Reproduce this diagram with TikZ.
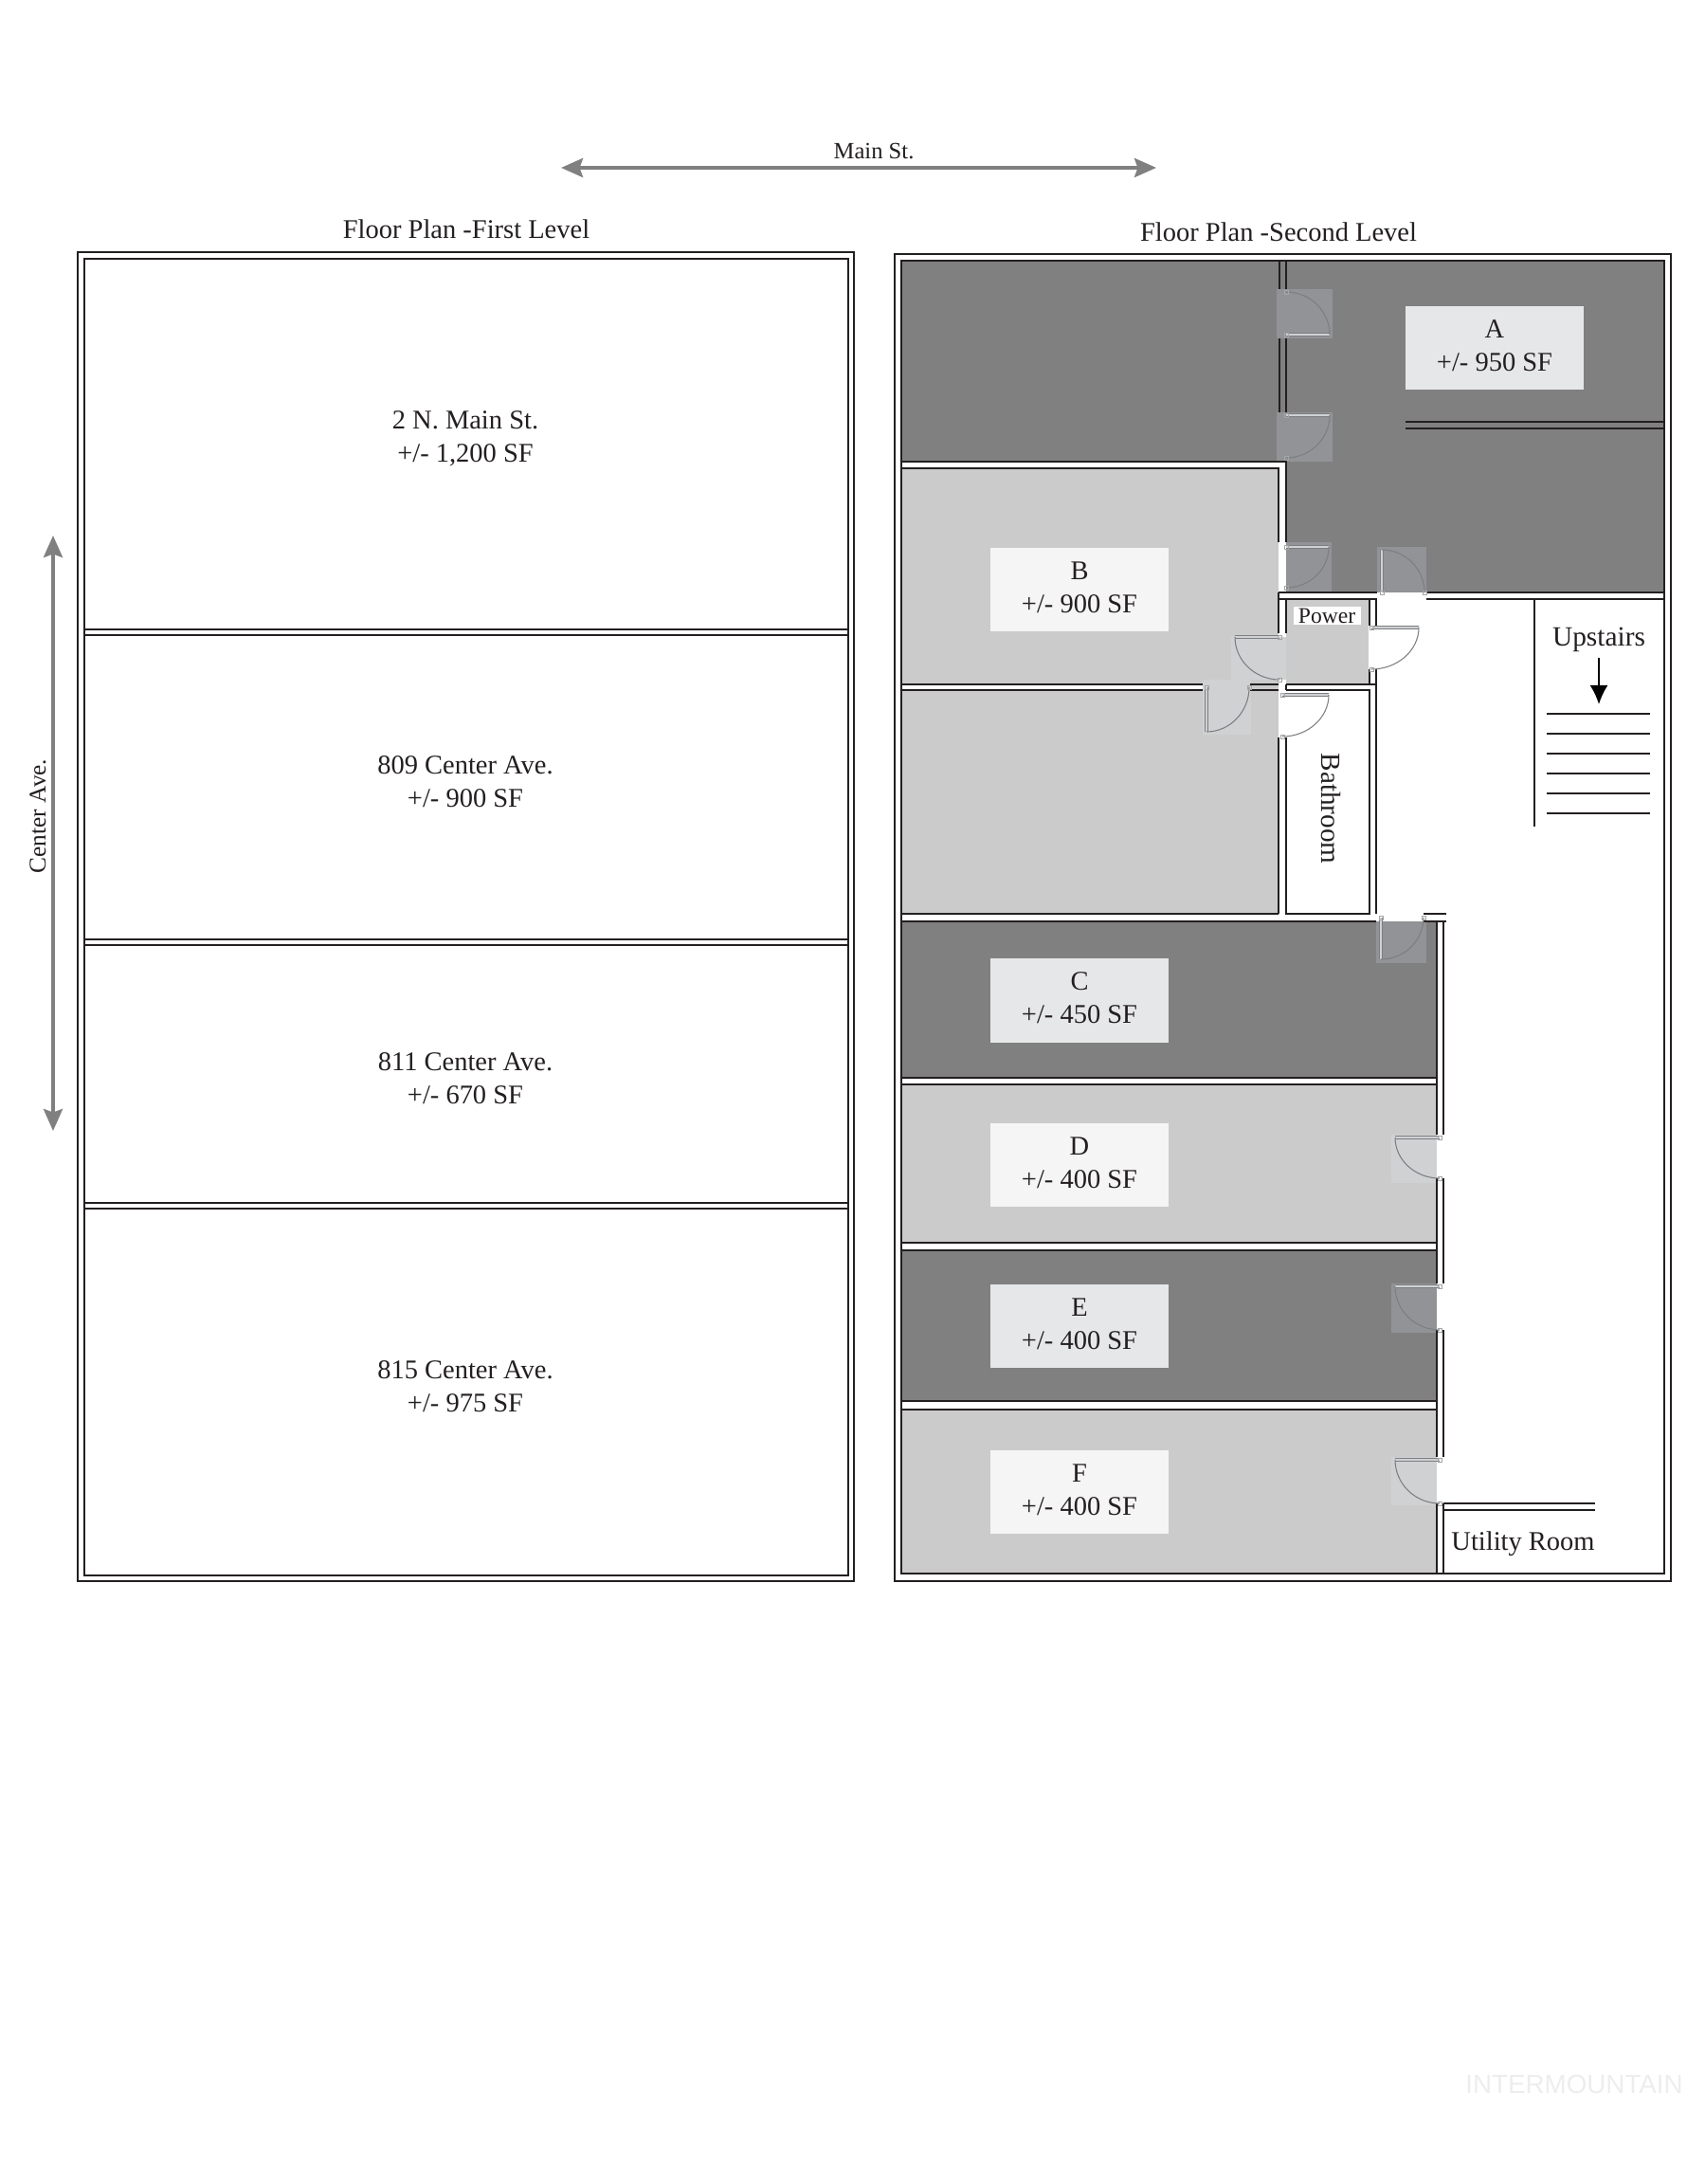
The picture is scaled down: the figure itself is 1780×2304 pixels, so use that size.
\documentclass[tikz,border=0pt]{standalone}
\usepackage{fontspec}
\setmainfont{Liberation Serif}
\newfontfamily\markfont{Liberation Sans}
\usetikzlibrary{calc,arrows.meta}
\definecolor{plan@dark}{RGB}{128,128,128}
\definecolor{plan@light}{RGB}{203,203,203}
\definecolor{plan@patchdark}{RGB}{146,147,150}
\definecolor{plan@patchlight}{RGB}{208,209,211}
\definecolor{plan@tagdark}{RGB}{230,231,232}
\definecolor{plan@taglight}{RGB}{245,245,245}
\definecolor{plan@ink}{RGB}{35,31,32}
\definecolor{plan@door}{RGB}{125,126,129}
\tikzset{
  wall/.style={draw=plan@ink, line width=0.6pt},
  tread/.style={draw=plan@ink, line width=0.75pt},
  street/.style={draw=plan@dark, line width=1.1pt, {Stealth[length=2.3mm,width=2mm,inset=0.35mm]}-{Stealth[length=2.3mm,width=2mm,inset=0.35mm]}},
  door@leaf/.style={draw=plan@door, line width=0.2pt, double=plan@patchlight, double distance=0.5pt},
  door@swing/.style={draw=plan@door, line width=0.3pt},
  door@jamb/.style={draw=plan@door!70!white, line width=0.2pt},
  label/.style={align=center, text=plan@ink, font=\fontsize{8.1}{10}\selectfont, inner sep=0pt},
}
\newcommand{\planDoor}[3]{%
  \draw[door@leaf] (#1) -- (#2);
  \draw[door@swing] (#2) .. controls ($(#2)+0.55*(#3)-0.55*(#1)$) and ($(#3)+0.55*(#2)-0.55*(#1)$) .. (#3);
  \draw[door@jamb] ($(#1)+(-2,-2)$) rectangle ++(4,4);
  \draw[door@jamb] ($(#3)+(-2,-2)$) rectangle ++(4,4);
}

\begin{document}
\begin{tikzpicture}[x=0.01cm,y=-0.01cm]
\useasboundingbox (0,0) rectangle (1780,2304);

% street arrows
\coordinate (mainwest) at (592,177);
\coordinate (maineast) at (1220,177);
\coordinate (centernorth) at (56,565);
\coordinate (centersouth) at (56,1193);
\draw[street] (mainwest) -- (maineast);
\draw[street] (centernorth) -- (centersouth);
\node[label,font=\fontsize{7}{9}\selectfont] (mainst) at (922,160) {Main St.};
\node[label,font=\fontsize{7.2}{9}\selectfont,rotate=90] (centerave) at (40,861) {Center Ave.};

% First level
\node[label] (firsttitle) at (492,242) {Floor Plan -First Level};
\draw[wall] (82,266) rectangle (901,1668);
\draw[wall] (89,273) rectangle (895,1662);
\draw[wall] (89,664) -- (895,664);
\draw[wall] (89,670) -- (895,670);
\draw[wall] (89,991) -- (895,991);
\draw[wall] (89,997) -- (895,997);
\draw[wall] (89,1269) -- (895,1269);
\draw[wall] (89,1275) -- (895,1275);
\node[label] (mainshop) at (491,463) {2 N. Main St.\\+/- 1,200 SF};
\node[label] (shop809) at (491,825) {809 Center Ave.\\+/- 900 SF};
\node[label] (shop811) at (491,1138) {811 Center Ave.\\+/- 670 SF};
\node[label] (shop815) at (491,1463) {815 Center Ave.\\+/- 975 SF};

% Second level
\node[label] (secondtitle) at (1349,245) {Floor Plan -Second Level};

% suites
\fill[plan@dark] (951,275) rectangle (1357,487);
\fill[plan@dark] (1357,275) rectangle (1756,625);
\fill[plan@light] (951,494) rectangle (1349,722);
\fill[plan@light] (951,728) rectangle (1349,964);
\fill[plan@light] (1319,722) rectangle (1349,728);
\fill[plan@light] (1357,632) rectangle (1444,722);
\fill[plan@dark] (951,972) rectangle (1516,1137);
\fill[plan@light] (951,1144) rectangle (1516,1311);
\fill[plan@dark] (951,1319) rectangle (1516,1478);
\fill[plan@light] (951,1487) rectangle (1516,1660);

% door patches
\fill[plan@patchdark] (1347,305) rectangle (1406,357);
\fill[plan@patchdark] (1347,435) rectangle (1406,487);
\fill[white] (1349,572) rectangle (1357,625);
\fill[plan@patchdark] (1357,572) rectangle (1405,625);
\fill[plan@patchdark] (1453,577) rectangle (1505,625);
\fill[plan@patchlight] (1299,672) rectangle (1357,717);
\fill[plan@patchlight] (1269,717) rectangle (1320,775);
\fill[plan@patchdark] (1452,972) rectangle (1505,1016);
\fill[plan@patchlight] (1468,1197) rectangle (1516,1248);
\fill[plan@patchdark] (1468,1354) rectangle (1516,1406);
\fill[plan@patchlight] (1468,1537) rectangle (1516,1588);

% outer walls
\draw[wall] (944,268) rectangle (1763,1668);
\draw[wall] (951,275) rectangle (1756,1660);

% walls round suite A
\draw[wall] (1350,275) -- (1350,305);
\draw[wall] (1357,275) -- (1357,305);
\draw[wall] (1350,357) -- (1350,435);
\draw[wall] (1357,357) -- (1357,435);
\draw[wall] (951,487) -- (1357,487) -- (1357,572);
\draw[wall] (951,494) -- (1349,494) -- (1349,572);
\draw[wall] (1483,445) -- (1756,445);
\draw[wall] (1483,452) -- (1756,452);
\draw[wall] (1349,625) -- (1453,625);
\draw[wall] (1505,625) -- (1756,625);
\draw[wall] (1349,632) -- (1453,632);
\draw[wall] (1505,632) -- (1756,632);

% power room and bathroom
\draw[wall] (1349,625) -- (1349,668);
\draw[wall] (1357,632) -- (1357,668);
\draw[wall] (1445,632) -- (1445,660);
\draw[wall] (1452,632) -- (1452,660);
\draw[wall] (1445,706) -- (1445,722);
\draw[wall] (1452,706) -- (1452,964);
\draw[wall] (1357,722) -- (1452,722);
\draw[wall] (1357,728) -- (1445,728) -- (1445,964) -- (1357,964) -- (1357,778);
\draw[wall] (1349,778) -- (1349,964);
\draw[wall] (1357,722) -- (1357,728);

% walls between suites
\draw[wall] (951,722) -- (1269,722);
\draw[wall] (951,728) -- (1269,728);
\draw[wall] (1319,722) -- (1349,722);
\draw[wall] (1319,728) -- (1349,728);
\draw[wall] (951,964) -- (1349,964);
\draw[wall] (951,972) -- (1452,972);
\draw[wall] (1502,964) -- (1526,964);
\draw[wall] (1502,972) -- (1526,972);
\draw[wall] (951,1137) -- (1516,1137);
\draw[wall] (951,1144) -- (1516,1144);
\draw[wall] (951,1311) -- (1516,1311);
\draw[wall] (951,1319) -- (1516,1319);
\draw[wall] (951,1478) -- (1516,1478);
\draw[wall] (951,1487) -- (1516,1487);

% corridor wall
\draw[wall] (1516,972) -- (1516,1197);
\draw[wall] (1523,972) -- (1523,1197);
\draw[wall] (1516,1243) -- (1516,1354);
\draw[wall] (1523,1243) -- (1523,1354);
\draw[wall] (1516,1403) -- (1516,1537);
\draw[wall] (1523,1403) -- (1523,1537);
\draw[wall] (1516,1586) -- (1516,1660);
\draw[wall] (1523,1586) -- (1523,1660);
\draw[wall] (1523,1586) -- (1683,1586);
\draw[wall] (1523,1593) -- (1683,1593);

% stairs
\draw[tread] (1619,632) -- (1619,872);
\node[label,font=\fontsize{8.35}{10}\selectfont] (upstairs) at (1687,675) {Upstairs};
\coordinate (stairtop) at (1687,694);
\coordinate (stairbottom) at (1687,743);
\draw[draw=black, line width=0.6pt, -{Latex[length=2mm,width=1.9mm]}] (stairtop) -- (stairbottom);
\draw[tread] (1632,753) -- (1741,753);
\draw[tread] (1632,774) -- (1741,774);
\draw[tread] (1632,795) -- (1741,795);
\draw[tread] (1632,816) -- (1741,816);
\draw[tread] (1632,837) -- (1741,837);
\draw[tread] (1632,858) -- (1741,858);

% doors
\planDoor{1357,353}{1403,353}{1357,308}
\planDoor{1357,438}{1403,438}{1357,483}
\planDoor{1357,577}{1402,577}{1357,620}
\planDoor{1458,625}{1458,580}{1503,625}
\planDoor{1350,672}{1303,672}{1350,717}
\planDoor{1447,662}{1497,662}{1447,706}
\planDoor{1273,725}{1273,772}{1318,725}
\planDoor{1353,733}{1402,733}{1353,777}
\planDoor{1457,968}{1457,1012}{1502,968}
\planDoor{1519,1200}{1472,1200}{1519,1243}
\planDoor{1519,1357}{1472,1357}{1519,1403}
\planDoor{1519,1540}{1472,1540}{1519,1586}

% suite labels
\fill[plan@tagdark] (1483,323) rectangle (1671,411);
\node[label] (suitea) at (1577,365) {A\\+/- 950 SF};
\fill[plan@taglight] (1045,578) rectangle (1233,666);
\node[label] (suiteb) at (1139,620) {B\\+/- 900 SF};
\fill[plan@tagdark] (1045,1011) rectangle (1233,1100);
\node[label] (suitec) at (1139,1053) {C\\+/- 450 SF};
\fill[plan@taglight] (1045,1185) rectangle (1233,1273);
\node[label] (suited) at (1139,1227) {D\\+/- 400 SF};
\fill[plan@tagdark] (1045,1355) rectangle (1233,1443);
\node[label] (suitee) at (1139,1397) {E\\+/- 400 SF};
\fill[plan@taglight] (1045,1530) rectangle (1233,1618);
\node[label] (suitef) at (1139,1572) {F\\+/- 400 SF};

% rooms
\fill[white] (1365,640) rectangle (1436,659);
\node[label,font=\fontsize{6.7}{9}\selectfont] (power) at (1400,650) {Power};
\node[label,font=\fontsize{8.3}{10}\selectfont,rotate=-90] (bathroom) at (1404,853) {Bathroom};
\node[label] (utility) at (1607,1629) {Utility Room};

\node[font=\markfont\fontsize{7.9}{10}\selectfont,text=black!7,inner sep=0pt] (watermark) at (1661,2199) {INTERMOUNTAIN};

\end{tikzpicture}
\end{document}
